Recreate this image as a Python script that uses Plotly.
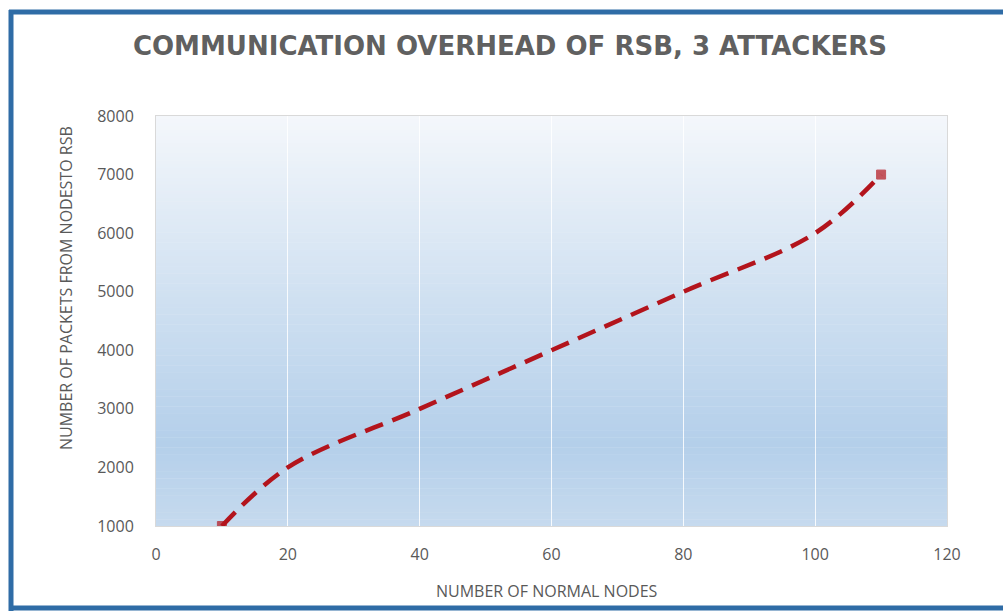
import plotly.graph_objects as go

# ---- data ----
nodes = [10, 20, 40, 60, 80, 100, 110]
packets = [1000, 2000, 3000, 4000, 5000, 6000, 7000]
x_ticks = [0, 20, 40, 60, 80, 100, 120]
y_ticks = [1000, 2000, 3000, 4000, 5000, 6000, 7000, 8000]

title_text = "COMMUNICATION OVERHEAD OF RSB, 3 ATTACKERS"
x_title = "NUMBER OF NORMAL NODES"
y_title = "NUMBER OF PACKETS FROM NODESTO RSB"

W, H = 1003, 611
ML, MR, MT, MB = 156, 56, 116, 85
PW, PH = W - ML - MR, H - MT - MB


def px(x):
    return (x - ML) / PW


def py(y):
    return (H - MB - y) / PH


TXT = "#595959"
FONT = "Open Sans"
RED = "#b3141c"

fig = go.Figure()
fig.add_trace(go.Scatter(
    x=nodes, y=packets, mode="lines+markers",
    line=dict(color=RED, width=4.5, dash="19px,10px", shape="spline", smoothing=1.0),
    marker=dict(symbol="square", color=RED, line=dict(color=RED, width=1),
                size=[9 if i in (0, len(nodes) - 1) else 0 for i in range(len(nodes))]),
    showlegend=False, hoverinfo="x+y",
))

shapes = []
# gradient plot background (vertical), stops: (pos from top, rgb)
stops = [(0.0, (244, 247, 251)), (0.45, (207, 224, 241)), (0.80, (180, 207, 234)),
         (1.0, (198, 218, 238))]


def col_at(t):
    for (a, ca), (b, cb) in zip(stops[:-1], stops[1:]):
        if a <= t <= b:
            f = (t - a) / (b - a) if b > a else 0
            return tuple(int(round(ca[i] + (cb[i] - ca[i]) * f)) for i in range(3))
    return stops[-1][1]


N = 120
for i in range(N):
    t0, t1 = i / N, (i + 1) / N
    c = col_at((t0 + t1) / 2)
    shapes.append(dict(type="rect", xref="x domain", yref="y domain", x0=0, x1=1,
                       y0=1 - t1 - 0.001, y1=1 - t0, line=dict(width=0),
                       fillcolor=f"rgb{c}", layer="below"))

# outer blue frame (left, top, bottom)
BLUE = "#2f6ca6"
shapes.append(dict(type="line", xref="paper", yref="paper", x0=px(11), x1=px(11), y0=py(10), y1=py(611),
                   line=dict(color=BLUE, width=5), layer="above"))
shapes.append(dict(type="line", xref="paper", yref="paper", x0=px(9), x1=px(1010), y0=py(12), y1=py(12),
                   line=dict(color=BLUE, width=5), layer="above"))
shapes.append(dict(type="line", xref="paper", yref="paper", x0=px(9), x1=px(1010), y0=py(608), y1=py(608),
                   line=dict(color=BLUE, width=5), layer="above"))

fig.update_layout(
    width=W, height=H,
    margin=dict(l=ML, r=MR, t=MT, b=MB),
    paper_bgcolor="white", plot_bgcolor="#eef3f9",
    font=dict(family=FONT, color=TXT),
    title=dict(text=title_text, x=510 / W, xanchor="center", y=1 - 46 / H, yanchor="middle",
               font=dict(family="DejaVu Sans", size=26, color="#606060", weight="bold")),
    shapes=shapes,
    annotations=[
        dict(text=y_title, xref="paper", yref="paper", x=px(66), y=py(288), textangle=-90,
             showarrow=False, xanchor="center", yanchor="middle",
             font=dict(family=FONT, size=16, color=TXT)),
        dict(text=x_title, xref="paper", yref="paper", x=px(547), y=py(591),
             showarrow=False, xanchor="center", yanchor="middle",
             font=dict(family=FONT, size=16, color=TXT)),
    ],
    xaxis=dict(range=[0, 120], tickvals=x_ticks, showgrid=True, gridcolor="rgba(255,255,255,0.85)",
               gridwidth=1, zeroline=False, showline=True, linecolor="#d9d9d9", mirror=True,
               ticks="", ticklabelstandoff=14, tickfont=dict(size=16, color=TXT, family=FONT)),
    yaxis=dict(range=[1000, 8000], tickvals=y_ticks, showgrid=False, zeroline=False,
               showline=True, linecolor="#d9d9d9", mirror=True,
               ticks="", ticklabelstandoff=18, tickfont=dict(size=16, color=TXT, family=FONT)),
)

fig.write_html("out.html", config={"displayModeBar": False},
               post_script="document.body.style.margin='0';document.body.style.overflow='hidden';")
